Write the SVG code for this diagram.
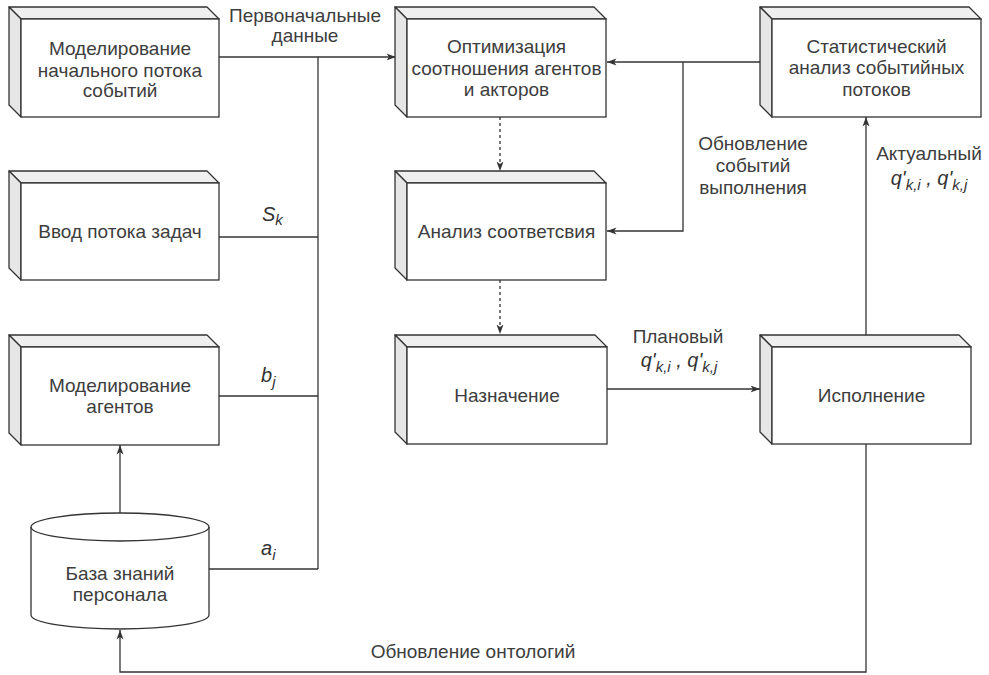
<svg xmlns="http://www.w3.org/2000/svg" width="989" height="675" viewBox="0 0 989 675">
<style>
.t{font-family:"Liberation Sans",Arial,sans-serif;font-size:19px;fill:#3d3d3d;text-anchor:middle}
.m{font-family:"Liberation Sans",Arial,sans-serif;font-size:20px;font-style:italic;fill:#333}
.sub{font-size:15px}
.front{fill:#fff;stroke:#333;stroke-width:1.3}
.side{fill:#e6e6e6;stroke:#333;stroke-width:1.3;stroke-linejoin:round}
.top{fill:#efefef;stroke:#333;stroke-width:1.3;stroke-linejoin:round}
.c{fill:none;stroke:#333;stroke-width:1.3}
.d{fill:none;stroke:#333;stroke-width:1.3;stroke-dasharray:3 3}
</style>
<defs>
<marker id="arr" viewBox="0 0 10 8" refX="9.5" refY="4" markerWidth="10" markerHeight="8" orient="auto" markerUnits="userSpaceOnUse">
<path d="M0,0.5 L9.5,4 L0,7.5 L2.5,4 z" fill="#333"/>
</marker>
</defs>

<g id="connectors">
<path class="c" d="M219,57 H396" marker-end="url(#arr)"/>
<path class="c" d="M318,57 V569"/>
<path class="c" d="M219,237 H318"/>
<path class="c" d="M219,396 H318"/>
<path class="c" d="M209,569 H318"/>
<path class="c" d="M760,62 H607" marker-end="url(#arr)"/>
<path class="c" d="M683,62 V231 H607" marker-end="url(#arr)"/>
<path class="d" d="M500,117 V171" marker-end="url(#arr)"/>
<path class="d" d="M500,280 V334" marker-end="url(#arr)"/>
<path class="c" d="M607,389 H760" marker-end="url(#arr)"/>
<path class="c" d="M866,335 V117" marker-end="url(#arr)"/>
<path class="c" d="M866,444 V672 H120 V630" marker-end="url(#arr)"/>
<path class="c" d="M120,513 V445" marker-end="url(#arr)"/>
</g>

<g id="labels">
<text class="t" x="305" y="21.5">Первоначальные</text>
<text class="t" x="305" y="42">данные</text>
<text class="m" x="262" y="221">S<tspan class="sub" dy="4">k</tspan></text>
<text class="m" x="261" y="382">b<tspan class="sub" dy="5">j</tspan></text>
<text class="m" x="261" y="555">a<tspan class="sub" dy="5">i</tspan></text>
<text class="t" x="753" y="150">Обновление</text>
<text class="t" x="753" y="172">событий</text>
<text class="t" x="753" y="193.5">выполнения</text>
<text class="t" x="929" y="160">Актуальный</text>
<text class="m" x="929" y="185" text-anchor="middle">q'<tspan class="sub" dy="5">k,i</tspan><tspan dy="-5"> , q'</tspan><tspan class="sub" dy="5">k,j</tspan></text>
<text class="t" x="678" y="343">Плановый</text>
<text class="m" x="679" y="367" text-anchor="middle">q'<tspan class="sub" dy="5">k,i</tspan><tspan dy="-5"> , q'</tspan><tspan class="sub" dy="5">k,j</tspan></text>
<text class="t" x="473" y="658">Обновление онтологий</text>
</g>

<g id="n1">
<path class="top" d="M9,7 H207 L219,19 H21 Z"/>
<path class="side" d="M9,7 L21,19 V117 L9,105 Z"/>
<rect class="front" x="21" y="19" width="198" height="98"/>
<text class="t" x="120" y="55">Моделирование</text>
<text class="t" x="120" y="76.5">начального потока</text>
<text class="t" x="120" y="97">событий</text>
</g>

<g id="n2">
<path class="top" d="M9,171 H207 L219,183 H21 Z"/>
<path class="side" d="M9,171 L21,183 V280 L9,268 Z"/>
<rect class="front" x="21" y="183" width="198" height="97"/>
<text class="t" x="120" y="238">Ввод потока задач</text>
</g>

<g id="n3">
<path class="top" d="M9,335 H207 L219,347 H21 Z"/>
<path class="side" d="M9,335 L21,347 V445 L9,433 Z"/>
<rect class="front" x="21" y="347" width="198" height="98"/>
<text class="t" x="120" y="391.5">Моделирование</text>
<text class="t" x="120" y="412.5">агентов</text>
</g>

<g id="db">
<path class="front" d="M31,527 A89,14 0 0 1 209,527 V615 A89,14 0 0 1 31,615 Z"/>
<path class="c" d="M31,527 A89,14 0 0 0 209,527"/>
<text class="t" x="120" y="580">База знаний</text>
<text class="t" x="120" y="601">персонала</text>
</g>

<g id="opt">
<path class="top" d="M395,7 H594 L606,19 H407 Z"/>
<path class="side" d="M395,7 L407,19 V117 L395,105 Z"/>
<rect class="front" x="407" y="19" width="199" height="98"/>
<text class="t" x="506.5" y="53">Оптимизация</text>
<text class="t" x="506.5" y="74.5">соотношения агентов</text>
<text class="t" x="506.5" y="96">и акторов</text>
</g>

<g id="anal">
<path class="top" d="M395,171 H594 L606,183 H407 Z"/>
<path class="side" d="M395,171 L407,183 V280 L395,268 Z"/>
<rect class="front" x="407" y="183" width="199" height="97"/>
<text class="t" x="506.5" y="237.5">Анализ соответсвия</text>
</g>

<g id="nazn">
<path class="top" d="M395,335 H595 L607,347 H407 Z"/>
<path class="side" d="M395,335 L407,347 V444 L395,432 Z"/>
<rect class="front" x="407" y="347" width="200" height="97"/>
<text class="t" x="507" y="402">Назначение</text>
</g>

<g id="stat">
<path class="top" d="M760,7 H969 L981,19 H772 Z"/>
<path class="side" d="M760,7 L772,19 V117 L760,105 Z"/>
<rect class="front" x="772" y="19" width="209" height="98"/>
<text class="t" x="876.5" y="53">Статистический</text>
<text class="t" x="876.5" y="74">анализ событийных</text>
<text class="t" x="876.5" y="95.5">потоков</text>
</g>

<g id="isp">
<path class="top" d="M760,335 H959 L971,347 H772 Z"/>
<path class="side" d="M760,335 L772,347 V444 L760,432 Z"/>
<rect class="front" x="772" y="347" width="199" height="97"/>
<text class="t" x="871.5" y="402">Исполнение</text>
</g>
</svg>
